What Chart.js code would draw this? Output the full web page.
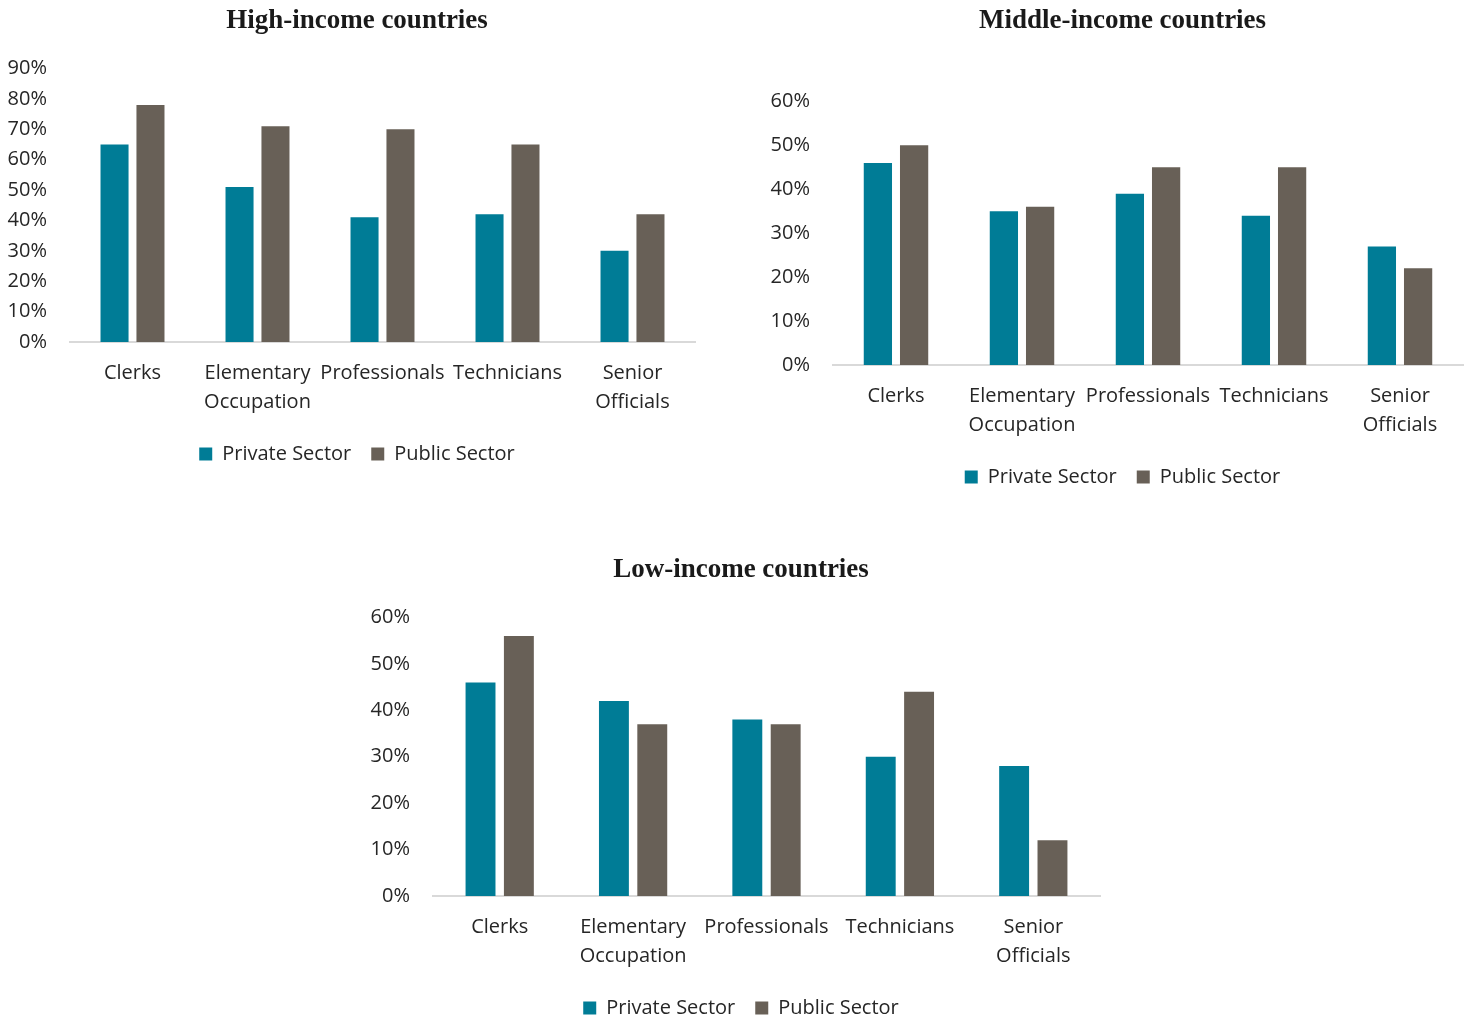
<!DOCTYPE html>
<html>
<head>
<meta charset="utf-8">
<script src="https://cdn.jsdelivr.net/npm/chart.js@4"></script>
<style>
  body { margin: 0; background: #fff; width: 1469px; height: 1020px; position: relative; overflow: hidden; }
  .box { position: absolute; }
</style>
</head>
<body>
<div class="box" style="left:0px;top:0px;width:714px;height:474px"><canvas id="highChart"></canvas></div>
<div class="box" style="left:763px;top:0px;width:706px;height:497px"><canvas id="middleChart"></canvas></div>
<div class="box" style="left:363px;top:549px;width:756px;height:479px"><canvas id="lowChart"></canvas></div>
<script>
//categorias y series
const occupations = ["Clerks", ["Elementary", "Occupation"], "Professionals", "Technicians", ["Senior", "Officials"]];
const seriesNames = ["Private Sector", "Public Sector"];

const highPrivate = [0.65, 0.51, 0.41, 0.42, 0.30];
const highPublic = [0.78, 0.71, 0.70, 0.65, 0.42];
const highTicks = [0, 0.1, 0.2, 0.3, 0.4, 0.5, 0.6, 0.7, 0.8, 0.9];

const middlePrivate = [0.46, 0.35, 0.39, 0.34, 0.27];
const middlePublic = [0.50, 0.36, 0.45, 0.45, 0.22];
const middleTicks = [0, 0.1, 0.2, 0.3, 0.4, 0.5, 0.6];

const lowPrivate = [0.46, 0.42, 0.38, 0.30, 0.28];
const lowPublic = [0.56, 0.37, 0.37, 0.44, 0.12];
const lowTicks = [0, 0.1, 0.2, 0.3, 0.4, 0.5, 0.6];

const colors = ["#007C96", "#686057"];
const textColor = "#262626";
const tickFont = { family: "'Open Sans', 'Noto Sans', sans-serif", size: 20 };

//el eje y empieza en el borde del canvas, asi las etiquetas no se recortan
const yAxisToEdge = {
  id: "yAxisToEdge",
  afterLayout: (chart) => { chart.scales.y.left = 0; }
};

//crear un grafico de barras
const makeChart = (id, title, privateVals, publicVals, ticks, titlePad, rightPad) => {
  const maxTick = ticks[ticks.length - 1];
  new Chart(document.getElementById(id), {
    type: "bar",
    data: {
      labels: occupations,
      datasets: [
        { label: seriesNames[0], data: privateVals, backgroundColor: colors[0], barPercentage: 0.78, categoryPercentage: 0.575 },
        { label: seriesNames[1], data: publicVals, backgroundColor: colors[1], barPercentage: 0.78, categoryPercentage: 0.575 }
      ]
    },
    plugins: [yAxisToEdge],
    options: {
      responsive: true,
      maintainAspectRatio: false,
      animation: false,
      layout: { padding: { left: 19, right: rightPad, top: 0, bottom: 0 } },
      plugins: {
        title: {
          display: true,
          text: title,
          color: "#1a1a1a",
          font: { family: "'Liberation Serif', serif", size: 27, weight: "bold", lineHeight: 1.2 },
          padding: { top: 5, bottom: titlePad }
        },
        legend: {
          position: "bottom",
          labels: {
            color: textColor,
            font: tickFont,
            boxWidth: 13,
            boxHeight: 13,
            padding: 20
          }
        },
        tooltip: { enabled: false }
      },
      scales: {
        x: {
          grid: { display: false, drawTicks: false },
          border: { color: "#d9d9d9", width: 2 },
          ticks: { color: textColor, font: { ...tickFont, lineHeight: 1.45 }, maxRotation: 0, autoSkip: false, padding: 17 },
          afterFit: (axis) => { axis.height = 82; }
        },
        y: {
          min: 0,
          max: maxTick,
          grid: { display: false, drawTicks: false },
          border: { display: false },
          afterBuildTicks: (axis) => { axis.ticks = ticks.map((v) => ({ value: v })); },
          afterFit: (axis) => { axis.width = 51; },
          ticks: {
            color: textColor,
            font: tickFont,
            padding: 23,
            callback: (v) => Math.round(v * 100) + "%"
          }
        }
      }
    }
  });
};

makeChart("highChart", "High-income countries", highPrivate, highPublic, highTicks, 31, 19);
makeChart("middleChart", "Middle-income countries", middlePrivate, middlePublic, middleTicks, 64, 6);
makeChart("lowChart", "Low-income countries", lowPrivate, lowPublic, lowTicks, 31, 19);
</script>
</body>
</html>
